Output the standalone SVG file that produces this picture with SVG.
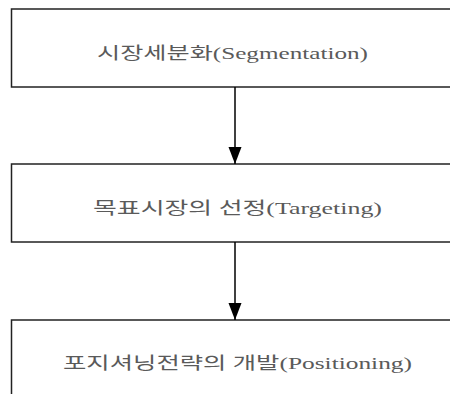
<svg xmlns="http://www.w3.org/2000/svg" width="450" height="394" viewBox="0 0 450 394">
<defs>
<style>
.box{fill:#fff;stroke:#222;stroke-width:1.5}
.lbl{font-family:"Liberation Serif","Noto Sans CJK KR",serif;font-size:17px;fill:#5a5a5a}
.conn{stroke:#000;stroke-width:1.5;fill:none}
</style>
<marker id="arr" markerWidth="17" markerHeight="14" refX="17" refY="7" orient="auto" markerUnits="userSpaceOnUse">
<path d="M0,0.5 L17,7 L0,13.5 Z" fill="#000"/>
</marker>
</defs>
<rect width="450" height="394" fill="#fff"/>
<g id="node-segmentation">
<rect class="box" x="11.5" y="9" width="460" height="78"/>
<text class="lbl" x="97" y="59" textLength="271" lengthAdjust="spacingAndGlyphs">시장세분화(Segmentation)</text>
</g>
<g id="node-targeting">
<rect class="box" x="11.5" y="164" width="460" height="78"/>
<text class="lbl" x="93" y="214" textLength="289" lengthAdjust="spacingAndGlyphs">목표시장의 선정(Targeting)</text>
</g>
<g id="node-positioning">
<rect class="box" x="11.5" y="320" width="460" height="90"/>
<text class="lbl" x="63" y="369" textLength="349" lengthAdjust="spacingAndGlyphs">포지셔닝전략의 개발(Positioning)</text>
</g>
<g id="connectors">
<line class="conn" x1="235" y1="87" x2="235" y2="164" marker-end="url(#arr)"/>
<line class="conn" x1="235" y1="242" x2="235" y2="320" marker-end="url(#arr)"/>
</g>
</svg>
